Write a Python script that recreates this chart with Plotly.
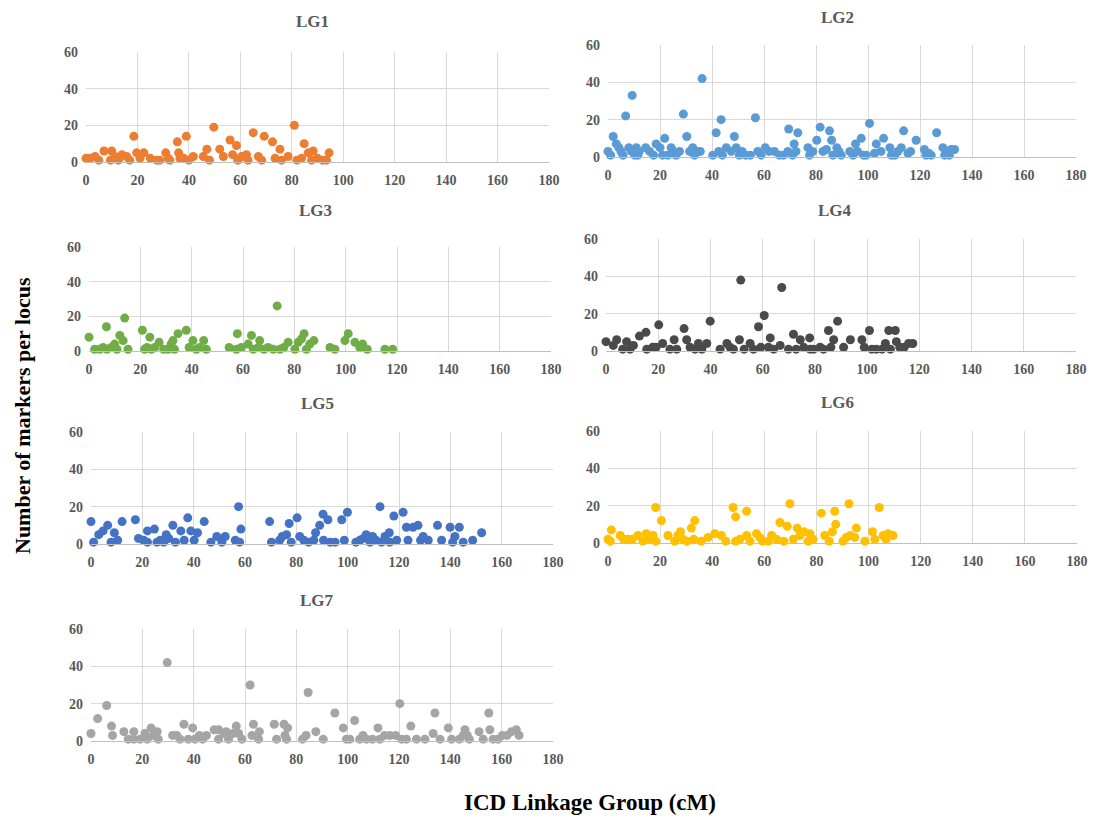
import plotly.graph_objects as go

W, H = 1096, 818

lg1_x = [0, 1.5, 3.5, 5, 7, 10, 9.5, 11.3, 12.6, 14, 15.8, 17, 18.6, 19.7, 21, 22.5, 25, 27.5, 28.7, 31, 32, 32.6,
         35.5, 36, 36.5, 39, 38, 40, 41.7, 45.6, 47, 48, 49.7, 52, 53.4, 56, 57, 58.5, 59, 60.5, 62.4, 63, 65, 67,
         68.3, 69.3, 72.5, 73.5, 75.4, 76, 78.6, 81, 82, 83.8, 84.8, 86.4, 88.3, 87.7, 90, 92, 93.5, 94.5]
lg1_y = [2, 2, 3, 1, 6, 6, 1, 3, 1, 4, 3, 1, 14, 5, 2, 5, 2, 1, 1, 5, 2, 1,
         11, 5, 2, 14, 2, 1, 3, 3, 7, 1, 19, 7, 3, 12, 4, 9, 1, 3, 4, 1, 16, 3,
         1, 14, 11, 2, 7, 1, 3, 20, 1, 2, 10, 5, 6, 1, 2, 1, 1, 5]

lg2_x = [0, 1, 2, 3.2, 4.2, 5, 5.8, 6.8, 8, 9, 9.3, 10.3, 10.9, 11.5, 12, 14.5, 16, 17.5, 18.5, 20, 21, 21.8,
         23, 24.3, 25.2, 26.2, 27.5, 29, 30.3, 31.4, 32.6, 33.3, 34.6, 36.2, 35.5, 40.3, 41.6, 42.6, 43.5, 44,
         45.5, 47.4, 48.6, 49.3, 50.5, 51.6, 53, 54.7, 56.7, 57.6, 58.9, 60.5, 62, 64, 66, 67.5, 69.2, 69.5, 71,
         71.6, 72.3, 73, 76.9, 77.5, 78.8, 80.3, 81.6, 82.7, 84, 85.2, 86, 86.5, 88, 88.8, 89.7, 93, 94.2, 95.2,
         96, 97.4, 98.3, 99.3, 100.6, 102.5, 103.2, 105, 106, 108.4, 109, 110.3, 111.5, 112.8, 113.7, 115.4,
         116.4, 118.5, 121.7, 122.3, 123.4, 124.3, 126.4, 128.8, 129.5, 130.3, 131.3, 132, 133.3]
lg2_y = [3, 1, 11, 7, 5, 3, 1, 22, 5, 3, 33, 1, 5, 1, 3, 5, 3, 1, 7, 5, 1, 10,
         1, 5, 3, 1, 3, 23, 11, 3, 5, 1, 3, 42, 3, 1, 13, 3, 20, 1,
         5, 3, 11, 5, 1, 3, 1, 1, 21, 3, 1, 5, 3, 3, 1, 1, 3, 15, 1,
         7, 3, 13, 5, 1, 3, 9, 16, 3, 4, 14, 9, 1, 5, 3, 1, 3, 1, 7,
         3, 10, 1, 1, 18, 2, 7, 3, 10, 5, 1, 1, 3, 5, 14, 2,
         3, 9, 4, 1, 2, 1, 13, 5, 1, 3, 1, 4, 4]

lg3_x = [0, 2.2, 4.2, 5.5, 6.8, 7, 8.7, 10, 10.9, 12, 13.3, 13.9, 15.2, 20.8, 21.7, 22.6, 23.7, 24.3, 25.6,
         27.3, 29.1, 30.8, 32, 32.7, 33.3, 34.7, 37.9, 39, 40.5, 41.8, 43.1, 44.7, 45.7, 54.6, 57.4, 57.8, 59.4,
         62, 63.3, 64, 66, 66.5, 68.2, 69.8, 71.8, 73.3, 74.4, 75.9, 77.6, 80.2, 81.5, 82.8, 83.8, 84.7, 86,
         87.6, 93.9, 95.8, 99.7, 101, 103.6, 105.5, 106.6, 108.4, 115.3, 118.3]
lg3_y = [8, 1, 1, 2, 14, 1, 2, 4, 1, 9, 6, 19, 1, 12, 1, 2, 8, 1, 2,
         5, 1, 1, 4, 6, 1, 10, 12, 2, 6, 1, 2, 6, 1, 2, 1, 10, 2,
         4, 9, 1, 2, 6, 1, 2, 1, 26, 1, 2, 5, 1, 5, 7, 10, 1, 4,
         6, 2, 1, 6, 10, 5, 2, 4, 1, 1, 1]

lg4_x = [0, 2.8, 4.1, 6.4, 7.9, 9.2, 10.5, 12.8, 15.3, 15.6, 17.9, 19.2, 20.2, 21.7, 24.5, 26.1, 27.1, 29.9,
         30.9, 32.2, 34.1, 35.4, 36.7, 38.6, 39.9, 43.7, 46.3, 47.5, 48.8, 51.1, 51.6, 52.9, 55.2, 56.5, 58.4,
         59.3, 60.6, 62.2, 62.9, 64.2, 66.7, 67.3, 69.9, 71.8, 72.8, 74.4, 75.7, 78, 78.2, 79.5, 82, 83.3, 85.2,
         86.1, 87.2, 88.7, 91, 93.6, 98, 98.9, 100.9, 101.8, 103.5, 105.7, 107, 108.3, 108.9, 110.8, 111.2,
         112.5, 114.2, 115.9, 117.5]
lg4_y = [5, 3, 6, 1, 5, 1, 3, 8, 10, 1, 2, 2, 14, 4, 1, 6, 1, 12,
         6, 2, 1, 4, 1, 4, 16, 1, 4, 2, 1, 6, 38, 1, 4, 1, 13,
         2, 19, 2, 7, 1, 3, 34, 1, 9, 1, 6, 2, 7, 1, 1, 2, 1, 11,
         2, 6, 16, 2, 6, 6, 2, 11, 1, 1, 1, 4, 11, 1, 11, 5,
         2, 2, 4, 4]

lg5_x = [0, 1, 3, 4.7, 6.5, 7.8, 9.1, 10.4, 12.1, 17.3, 18.5, 20.5, 22, 22, 24.7, 25.7, 27, 28.3, 29.3, 30.3,
         31.9, 32.9, 35, 36.3, 37.7, 38.9, 40.2, 41.5, 44.1, 46.7, 49, 51, 52.3, 56.2, 57.5, 57.9, 58.4, 69.6,
         70.3, 73.5, 74.5, 76.2, 77.2, 78, 80.3, 81.3, 82.9, 84.8, 86.8, 87.5, 89.1, 90.4, 90.6, 92.3, 93.2,
         95.1, 97.7, 98.7, 99.9, 103.2, 104.8, 106.1, 107.2, 108.7, 109.7, 111, 112.6, 113.2, 114.5, 116.2,
         116.4, 118, 119.1, 121.6, 122.9, 123.5, 125.5, 127.4, 128.4, 129.4, 131.4, 135, 136.6, 139.9, 140.9,
         141.8, 143.5, 145, 148.7, 152.2]
lg5_y = [12, 1, 5, 7, 10, 1, 6, 2, 12, 13, 3, 2, 1, 7, 8, 1, 2, 1, 5, 3,
         10, 1, 7, 2, 14, 7, 2, 6, 12, 1, 4, 1, 4, 2, 20, 1, 8, 12,
         1, 2, 4, 5, 11, 1, 14, 4, 2, 1, 2, 6, 10, 16, 2, 13, 1,
         1, 13, 2, 17, 1, 2, 3, 5, 1, 4, 2, 20, 1, 4, 6,
         1, 15, 2, 17, 9, 2, 9, 10, 2, 4, 2, 10, 2, 9, 1,
         4, 9, 1, 2, 6]

lg6_x = [0, 0.9, 1.3, 4.7, 6, 7.7, 9.3, 11.5, 13.4, 14.7, 16, 17.3, 18.3, 18.3, 20.5, 23, 25.6, 26.8, 27.8,
         28.8, 30.3, 32, 32.9, 33.3, 35.8, 38.4, 41, 43.5, 45.2, 48, 49, 49, 50.6, 53.2, 53.2, 54.5, 57, 58.3,
         59.3, 61.5, 62.8, 64.7, 66, 67.5, 68.8, 69.8, 71.1, 72.6, 73.6, 75.2, 76.8, 77.5, 78.7, 81.9, 83.2,
         84.9, 86.1, 87, 87.4, 90.2, 91.5, 92.5, 93, 95.3, 94.7, 98.6, 101.5, 102.4, 104.1, 105.6, 106.7,
         107.5, 109.4]
lg6_y = [2, 1, 7, 4, 2, 2, 2, 4, 1, 5, 2, 4, 19, 1, 12, 4, 1, 4, 6,
         2, 1, 8, 2, 12, 1, 3, 5, 4, 1, 19, 14, 1, 2, 17, 4, 1, 5, 3,
         1, 1, 4, 2, 11, 1, 9, 21, 2, 8, 4, 6, 1, 5, 2, 16, 4,
         1, 6, 17, 10, 1, 3, 21, 4, 8, 3, 1, 6, 2, 19, 4, 2,
         5, 4]

lg7_x = [0, 2.6, 6.1, 8, 8.4, 12.8, 14.5, 16.7, 16.7, 19.1, 21, 21.9, 23.4, 24.3, 25.8, 26.2, 29.7, 31.8,
         33.4, 34.7, 36.2, 37.9, 39.6, 40.5, 42.2, 43.5, 45, 48, 49.7, 49.7, 51.9, 52.7, 53.6, 55.3, 56.6,
         57.5, 58.8, 62, 62.7, 63.3, 65.6, 65.3, 71.4, 72.3, 75.2, 75.6, 76.6, 76.2, 82.4, 83.8, 84.6, 87.6,
         90.5, 95, 98.3, 99.5, 100.8, 102.7, 104.7, 106, 107.3, 109.6, 111.8, 112.5, 114.4, 116.4, 118.7,
         120.3, 121, 122.9, 124.6, 126.8, 130.1, 133.3, 134, 136, 139.2, 140.5, 143.5, 145, 145.7, 146.6,
         147.4, 151.2, 152.8, 155, 155.4, 156.7, 158.6, 160.3, 162.1, 163.8, 165.7, 166.8]
lg7_y = [4, 12, 19, 8, 3, 5, 1, 5, 1, 1, 4, 1, 7, 3, 5, 1, 42, 3,
         3, 1, 9, 1, 7, 1, 3, 1, 3, 6, 6, 1, 4, 5, 1, 4, 8,
         4, 1, 30, 3, 9, 5, 1, 9, 1, 9, 3, 7, 1, 1, 3, 26, 5,
         1, 15, 7, 1, 1, 11, 1, 3, 1, 1, 7, 1, 3, 3, 3,
         20, 1, 1, 8, 1, 1, 4, 15, 1, 7, 1, 1, 3, 6, 3,
         1, 5, 1, 15, 6, 1, 1, 3, 3, 5, 6, 3]

titles = ["LG1", "LG2", "LG3", "LG4", "LG5", "LG6", "LG7"]
colors = ["#ED7D31", "#5B9BD5", "#70AD47", "#4A4A4A", "#4472C4", "#FFC000", "#A5A5A5"]
xs = [lg1_x, lg2_x, lg3_x, lg4_x, lg5_x, lg6_x, lg7_x]
ys = [lg1_y, lg2_y, lg3_y, lg4_y, lg5_y, lg6_y, lg7_y]
x_ticks = [0, 20, 40, 60, 80, 100, 120, 140, 160, 180]
y_ticks = [0, 20, 40, 60]

# panel boxes in pixels: (left, right, top, bottom)
boxes = [(86, 549, 52, 162), (608, 1076, 45, 157),
         (89, 551, 247, 351), (606, 1076, 239, 351),
         (91, 553, 432, 544), (608, 1077, 431, 543),
         (91, 553, 629, 741)]
title_pos = [(312, 21), (837, 17), (315, 210), (835, 210), (317, 403), (837, 402), (317, 600)]

SERIF = "Liberation Serif, Times New Roman, serif"
fig = go.Figure()
layout = dict(width=W, height=H, autosize=False,
              margin=dict(l=0, r=0, t=0, b=0, pad=0, autoexpand=False),
              paper_bgcolor="white", plot_bgcolor="white", showlegend=False,
              font=dict(family=SERIF, color="#595959"))
annotations = []
for i in range(7):
    xa = "x" if i == 0 else f"x{i+1}"
    ya = "y" if i == 0 else f"y{i+1}"
    fig.add_trace(go.Scatter(x=xs[i], y=ys[i], mode="markers", xaxis=xa, yaxis=ya,
                             marker=dict(size=9, color=colors[i], line=dict(width=0)),
                             cliponaxis=False))
    l, r, t, b = boxes[i]
    xkey = "xaxis" if i == 0 else f"xaxis{i+1}"
    ykey = "yaxis" if i == 0 else f"yaxis{i+1}"
    layout[xkey] = dict(domain=[l / W, r / W], anchor=ya, range=[0, 180], tickvals=x_ticks,
                        showgrid=True, gridcolor="#D9D9D9", gridwidth=1, zeroline=False,
                        showline=True, linecolor="#BFBFBF", linewidth=1, mirror=False, automargin=False,
                        ticks="", tickfont=dict(family=SERIF, size=14, color="#595959", weight="bold"),
                        ticklabelstandoff=5, fixedrange=True)
    layout[ykey] = dict(domain=[1 - b / H, 1 - t / H], anchor=xa, range=[0, 60], tickvals=y_ticks,
                        showgrid=True, gridcolor="#D9D9D9", gridwidth=1, zeroline=False,
                        showline=False, ticks="", automargin=False,
                        tickfont=dict(family=SERIF, size=14, color="#595959", weight="bold"),
                        ticklabelstandoff=7, fixedrange=True)
    tx, ty = title_pos[i]
    annotations.append(dict(text="<b>" + titles[i] + "</b>", x=tx / W, y=1 - ty / H, xref="paper", yref="paper",
                            showarrow=False, xanchor="center", yanchor="middle",
                            font=dict(family=SERIF, size=17, color="#595959")))

annotations.append(dict(text="<b>Number of markers per locus</b>", x=22 / W, y=1 - 416 / H, xref="paper",
                        yref="paper", showarrow=False, textangle=-90, xanchor="center", yanchor="middle",
                        font=dict(family=SERIF, size=22, color="black")))
annotations.append(dict(text="<b>ICD Linkage Group (cM)</b>", x=590 / W, y=1 - 802 / H, xref="paper",
                        yref="paper", showarrow=False, xanchor="center", yanchor="middle",
                        font=dict(family=SERIF, size=23, color="black")))
layout["annotations"] = annotations
fig.update_layout(**layout)

fig.write_html("out.html", config={"displayModeBar": False, "responsive": False},
               post_script="document.body.style.margin='0';document.body.style.padding='0';"
                           "document.documentElement.style.overflow='hidden';")
